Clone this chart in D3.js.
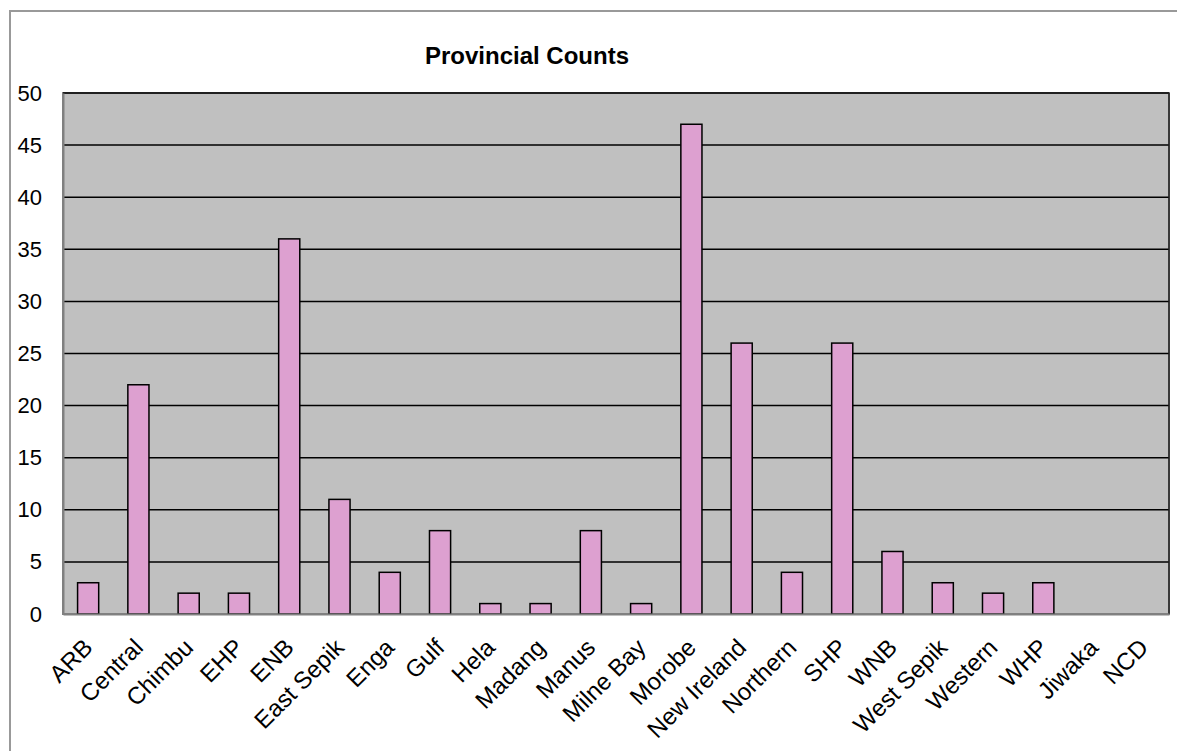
<!DOCTYPE html>
<meta charset="utf-8">
<title>Provincial Counts</title>
<style>
    body { margin: 0; background: #fff; }
    text { font-family: "Liberation Sans", Arial, sans-serif; fill: #000; }
    #title { font-size: 24px; font-weight: bold; text-anchor: middle; }
    .tick text { font-size: 22px; }
    .x-axis .tick text { font-size: 24px; }
</style>

<body>
    <script src="https://d3js.org/d3.v7.min.js" charset="utf-8"></script>
    <script>
        // data
        var provinces = ["ARB", "Central", "Chimbu", "EHP", "ENB", "East Sepik", "Enga", "Gulf",
            "Hela", "Madang", "Manus", "Milne Bay", "Morobe", "New Ireland", "Northern", "SHP",
            "WNB", "West Sepik", "Western", "WHP", "Jiwaka", "NCD"];
        var counts = [3, 22, 2, 2, 36, 11, 4, 8, 1, 1, 8, 1, 47, 26, 4, 26, 6, 3, 2, 3, 0, 0];
        var yTicks = [0, 5, 10, 15, 20, 25, 30, 35, 40, 45, 50];

        var width = 1177,
            height = 751;

        var plot = { left: 63, top: 93, right: 1169, bottom: 614 };

        var svg = d3.select("body").append("svg")
            .attr("width", width)
            .attr("height", height);

        // outer chart frame
        svg.append("rect")
            .attr("x", 10)
            .attr("y", 11)
            .attr("width", width)
            .attr("height", height)
            .style("fill", "none")
            .style("stroke", "#999")
            .style("stroke-width", 2);

        svg.append("text")
            .attr("id", "title")
            .attr("x", 527)
            .attr("y", 64)
            .text("Provincial Counts");

        var x = d3.scaleBand()
            .domain(provinces)
            .range([plot.left, plot.right])
            .paddingInner(0.58)
            .paddingOuter(0.29);

        var y = d3.scaleLinear()
            .domain([0, 50])
            .range([plot.bottom, plot.top]);

        // plot background
        svg.append("rect")
            .attr("x", plot.left)
            .attr("y", plot.top)
            .attr("width", plot.right - plot.left)
            .attr("height", plot.bottom - plot.top)
            .style("fill", "#c0c0c0")
            .style("stroke", "#808080")
            .style("stroke-width", 2);

        // gridlines
        svg.append("g")
            .selectAll("line")
            .data(yTicks.filter(function (d) { return d > 0; }))
            .enter().append("line")
            .attr("x1", plot.left)
            .attr("x2", plot.right)
            .attr("y1", function (d) { return y(d); })
            .attr("y2", function (d) { return y(d); })
            .style("stroke", "#000")
            .style("stroke-width", 1.5);

        // right edge of plot area
        svg.append("line")
            .attr("x1", plot.right).attr("x2", plot.right)
            .attr("y1", plot.top).attr("y2", plot.bottom)
            .style("stroke", "#222")
            .style("stroke-width", 1.5);

        svg.append("g")
            .selectAll("rect")
            .data(counts)
            .enter().append("rect")
            .attr("x", function (d, i) { return x(provinces[i]); })
            .attr("y", function (d) { return y(d); })
            .attr("width", x.bandwidth())
            .attr("height", function (d) { return plot.bottom - y(d); })
            .style("display", function (d) { return d > 0 ? null : "none"; })
            .style("fill", "#dda0d0")
            .style("stroke", "#000")
            .style("stroke-width", 1.5);

        // y axis
        var yAxis = svg.append("g")
            .attr("transform", "translate(" + plot.left + ",0)")
            .call(d3.axisLeft(y).tickValues(yTicks).tickSize(0).tickPadding(21));
        yAxis.select(".domain").style("stroke", "#808080").style("stroke-width", 2);

        // x axis
        var xAxis = svg.append("g")
            .attr("class", "x-axis")
            .attr("transform", "translate(0," + plot.bottom + ")")
            .call(d3.axisBottom(x).tickSize(0));
        xAxis.select(".domain").style("stroke", "#808080").style("stroke-width", 2);
        xAxis.selectAll(".tick text")
            .attr("y", 0)
            .attr("dy", 0)
            .attr("transform", "translate(6,35) rotate(-45)")
            .style("text-anchor", "end");
    </script>
